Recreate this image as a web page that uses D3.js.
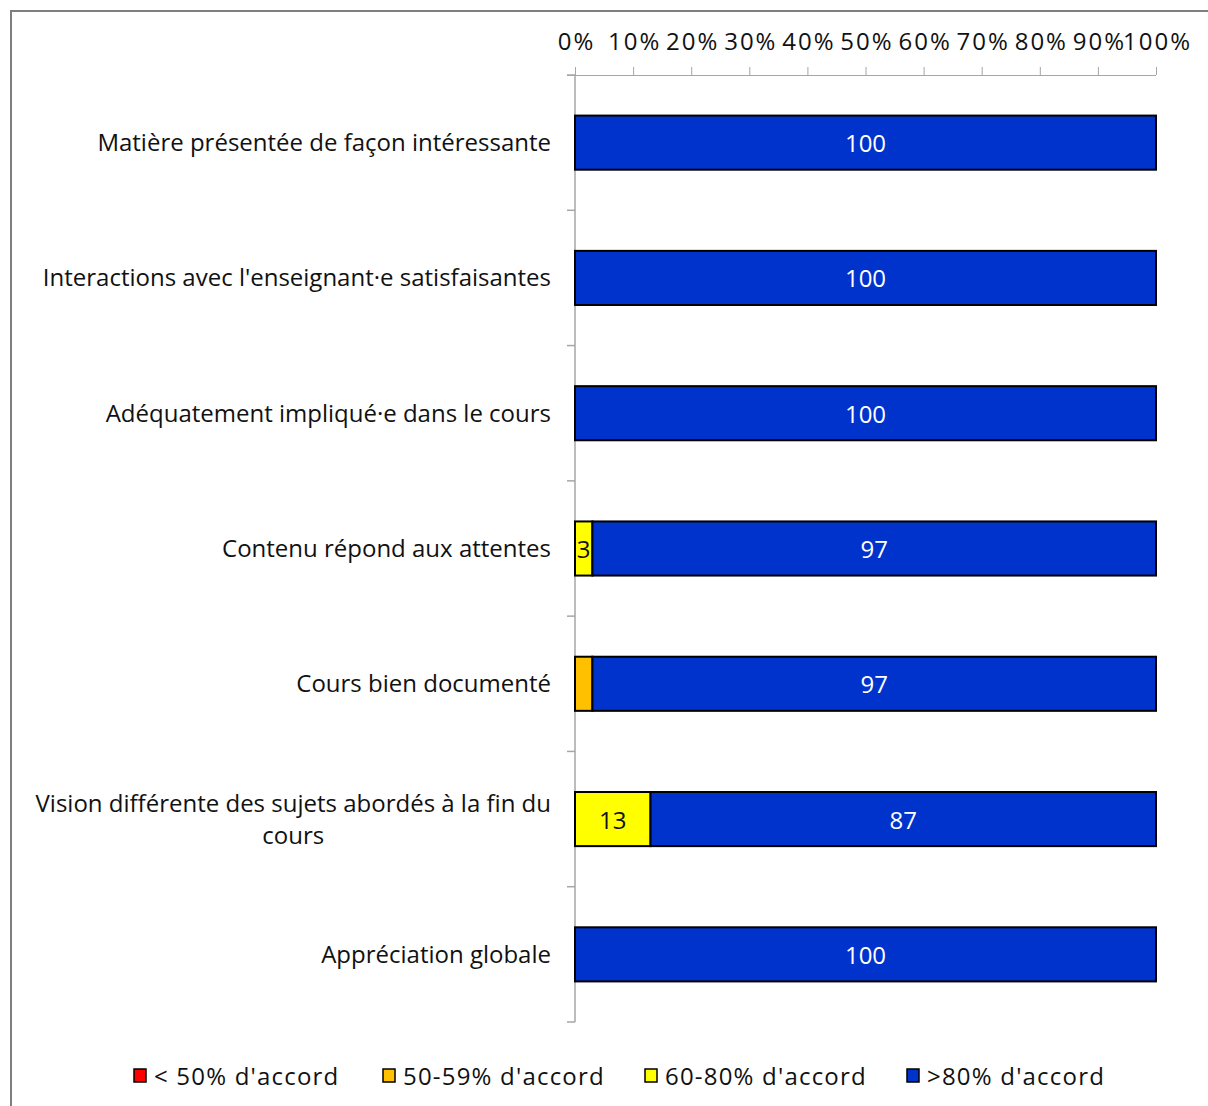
<!DOCTYPE html>
<html>
<head>
<meta charset="utf-8">
<script src="https://cdn.jsdelivr.net/npm/d3@7"></script>
<style>
  html, body { margin: 0; padding: 0; background: #fff; }
  svg text { font-family: "Open Sans", "Noto Sans", sans-serif; fill: #111; }
</style>
</head>
<body>
<div id="chart"></div>
<script>
// categories, top to bottom
const categories = [
    "Matière présentée de façon intéressante",
    "Interactions avec l'enseignant·e satisfaisantes",
    "Adéquatement impliqué·e dans le cours",
    "Contenu répond aux attentes",
    "Cours bien documenté",
    "Vision différente des sujets abordés à la fin du|cours",
    "Appréciation globale"
];

// series (stack order left to right)
const seriesNames = ["< 50% d'accord", "50-59% d'accord", "60-80% d'accord", ">80% d'accord"];
const seriesColors = ["#FF0000", "#FFC000", "#FFFF00", "#0033CC"];
const labelColors = ["#000", "#000", "#111", "#fff"];
const showLabels = [true, false, true, true];

const below50 = [0, 0, 0, 0, 0, 0, 0];
const from50to59 = [0, 0, 0, 0, 3, 0, 0];
const from60to80 = [0, 0, 0, 3, 0, 13, 0];
const above80 = [100, 100, 100, 97, 97, 87, 100];

const xTicks = [0, 10, 20, 30, 40, 50, 60, 70, 80, 90, 100];

const width = 1208, height = 1106;
const margin = {top: 75, right: 52, bottom: 84, left: 575};

const svg = d3.select("#chart").append("svg")
    .attr("width", width)
    .attr("height", height);

// outer frame (only top and left edges visible in the picture)
svg.append("path")
    .attr("d", `M11,${height} V11 H${width}`)
    .attr("fill", "none")
    .attr("stroke", "#7f7f7f")
    .attr("stroke-width", 2);

const x = d3.scaleLinear()
    .domain([0, 100])
    .range([margin.left, width - margin.right]);

const y = d3.scaleBand()
    .domain(categories)
    .range([margin.top, height - margin.bottom])
    .paddingInner(0.6)
    .paddingOuter(0.3);

const table = categories.map((c, i) => ({
    cat: c,
    s0: below50[i], s1: from50to59[i], s2: from60to80[i], s3: above80[i]
}));
const stack = d3.stack().keys(["s0", "s1", "s2", "s3"])(table);

// top axis
const xAxis = svg.append("g")
    .attr("transform", `translate(0,${margin.top})`)
    .call(d3.axisTop(x).tickValues(xTicks).tickFormat(d => d + "%").tickSize(8).tickPadding(17));
xAxis.select(".domain").attr("stroke", "#a6a6a6").attr("d", `M${margin.left - 8},0.5H${x(100)}`);
xAxis.selectAll(".tick line").attr("stroke", "#a6a6a6");
xAxis.selectAll(".tick text")
    .style("font-size", "24px")
    .style("letter-spacing", "2px")
    .attr("dx", "1px")
    .attr("fill", "#111");

// left axis: line with ticks between categories
const yAxisG = svg.append("g");
yAxisG.append("line")
    .attr("x1", margin.left).attr("x2", margin.left)
    .attr("y1", margin.top).attr("y2", height - margin.bottom)
    .attr("stroke", "#a6a6a6").attr("stroke-width", 1.5);
const boundaries = d3.range(categories.length + 1).map(i => margin.top + i * (height - margin.top - margin.bottom) / categories.length);
yAxisG.selectAll(".ytick")
    .data(boundaries)
    .enter().append("line")
    .attr("x1", margin.left - 8).attr("x2", margin.left)
    .attr("y1", d => d).attr("y2", d => d)
    .attr("stroke", "#a6a6a6").attr("stroke-width", 1.5);

// category labels
const catLabels = svg.append("g").selectAll("text")
    .data(categories)
    .enter().append("text")
    .attr("y", d => y(d) + y.bandwidth() / 2 - 1)
    .style("font-size", "24px")
    .attr("dominant-baseline", "central");
catLabels.each(function(d) {
    const lines = d.split("|");
    const t = d3.select(this);
    if (lines.length === 1) {
        t.attr("x", margin.left - 24).attr("text-anchor", "end").text(d);
    } else {
        // measure longest line to centre block under right edge
        t.text(lines[0]);
        const w = this.getComputedTextLength();
        t.text(null);
        const cx = margin.left - 24 - w / 2;
        t.attr("text-anchor", "middle");
        lines.forEach((ln, k) => {
            t.append("tspan")
                .attr("x", cx)
                .attr("dy", k === 0 ? -16 : 32)
                .text(ln);
        });
    }
});

// bars
const layers = svg.append("g").selectAll("g")
    .data(stack)
    .enter().append("g")
    .attr("fill", (d, i) => seriesColors[i]);

layers.selectAll("rect")
    .data(d => d.filter(p => p[1] - p[0] > 0))
    .enter().append("rect")
    .attr("x", d => x(d[0]))
    .attr("y", d => y(d.data.cat))
    .attr("width", d => x(d[1]) - x(d[0]))
    .attr("height", y.bandwidth())
    .attr("stroke", "#000")
    .attr("stroke-width", 2);

// value labels
layers.each(function(layer, i) {
    if (!showLabels[i]) return;
    d3.select(this).selectAll("text")
        .data(layer.filter(p => p[1] - p[0] > 0))
        .enter().append("text")
        .attr("x", d => (x(d[0]) + x(d[1])) / 2)
        .attr("y", d => y(d.data.cat) + y.bandwidth() / 2)
        .attr("text-anchor", "middle")
        .attr("dominant-baseline", "central")
        .style("font-size", "24px")
        .style("fill", labelColors[i])
        .text(d => d[1] - d[0]);
});

// legend
const legendX = [134, 383, 645, 907];
const legendY = 1074;
const legend = svg.append("g").selectAll("g")
    .data(seriesNames)
    .enter().append("g")
    .attr("transform", (d, i) => `translate(${legendX[i]},${legendY})`);
legend.append("rect")
    .attr("x", 0).attr("y", -5)
    .attr("width", 12).attr("height", 13)
    .attr("fill", (d, i) => seriesColors[i])
    .attr("stroke", "#000").attr("stroke-width", 1.5);
legend.append("text")
    .attr("x", 20)
    .attr("y", 1)
    .attr("dominant-baseline", "central")
    .style("font-size", "24px")
    .style("letter-spacing", "1.2px")
    .text(d => d);
</script>
</body>
</html>
